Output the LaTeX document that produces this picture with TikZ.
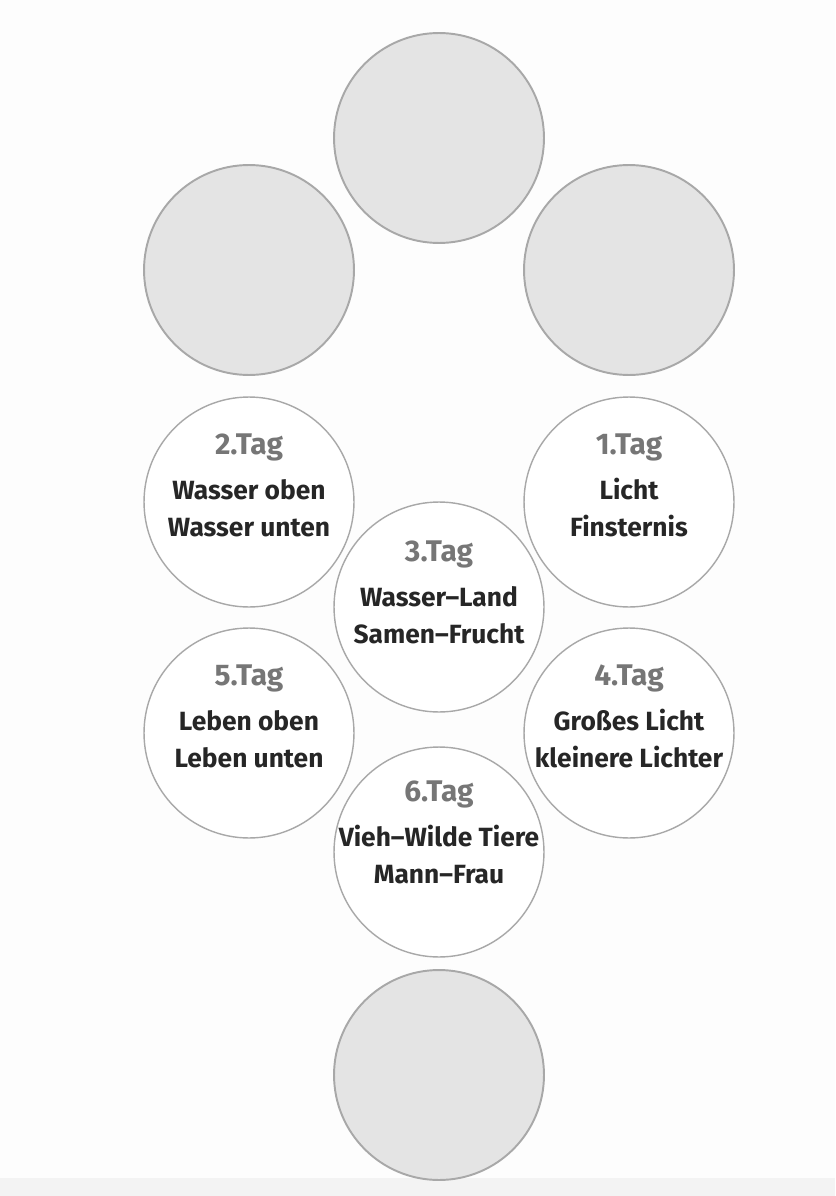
\documentclass[tikz,border=0pt]{standalone}
\usepackage{fontspec}
\setmainfont{Fira Sans}
\definecolor{kreisgrau}{RGB}{228,228,228}
\definecolor{randgrau}{RGB}{168,168,168}
\definecolor{taggrau}{RGB}{118,118,118}
\definecolor{textdunkel}{RGB}{38,38,38}
\definecolor{hintergrund}{RGB}{253,253,253}
\definecolor{streifen}{RGB}{243,243,243}
\usetikzlibrary{positioning}
\newcommand{\tagnr}[1]{{\fontsize{17}{21}\selectfont\color{taggrau}#1}}

\begin{document}
\begin{tikzpicture}[x=0.02cm, y=-0.02cm,
  leer/.style={circle, draw=randgrau, line width=1.1pt, fill=kreisgrau, minimum size=4.2cm, inner sep=0pt},
  tagkreis/.style={circle, draw=randgrau, line width=0.8pt, fill=white, minimum size=4.2cm, inner sep=0pt},
  tagtext/.style={font=\fontsize{15}{21}\selectfont\bfseries, text=textdunkel, align=center, inner sep=0pt, anchor=north},
]
% Hintergrund
\fill[hintergrund] (0,0) rectangle (835,1196);
\fill[streifen] (0,1178) rectangle (835,1196);
\useasboundingbox (0,0) rectangle (835,1196);

% leere Kreise
\node[leer] (oben) at (439,138) {};
\node[leer] (links) at (249,270) {};
\node[leer] (rechts) at (629,270) {};
\node[leer] (unten) at (439,1075) {};

% Tage
\node[tagkreis] (d2) at (249,502) {};
\node[tagtext] (t2) at (249,433) {\tagnr{2.Tag}\\[5pt]Wasser oben\\Wasser unten};

\node[tagkreis] (d1) at (629,502) {};
\node[tagtext] (t1) at (629,433) {\tagnr{1.Tag}\\[5pt]Licht\\Finsternis};

\node[tagkreis] (d3) at (439,607) {};
\node[tagtext] (t3) at (439,540) {\tagnr{3.Tag}\\[5pt]Wasser--Land\\Samen--Frucht};

\node[tagkreis] (d5) at (249,733) {};
\node[tagtext] (t5) at (249,664) {\tagnr{5.Tag}\\[5pt]Leben oben\\Leben unten};

\node[tagkreis] (d4) at (629,733) {};
\node[tagtext] (t4) at (629,664) {\tagnr{4.Tag}\\[5pt]Großes Licht\\kleinere Lichter};

\node[tagkreis] (d6) at (439,852) {};
\node[tagtext] (t6) at (439,780) {\tagnr{6.Tag}\\[5pt]Vieh--Wilde Tiere\\Mann--Frau};
\end{tikzpicture}
\end{document}
